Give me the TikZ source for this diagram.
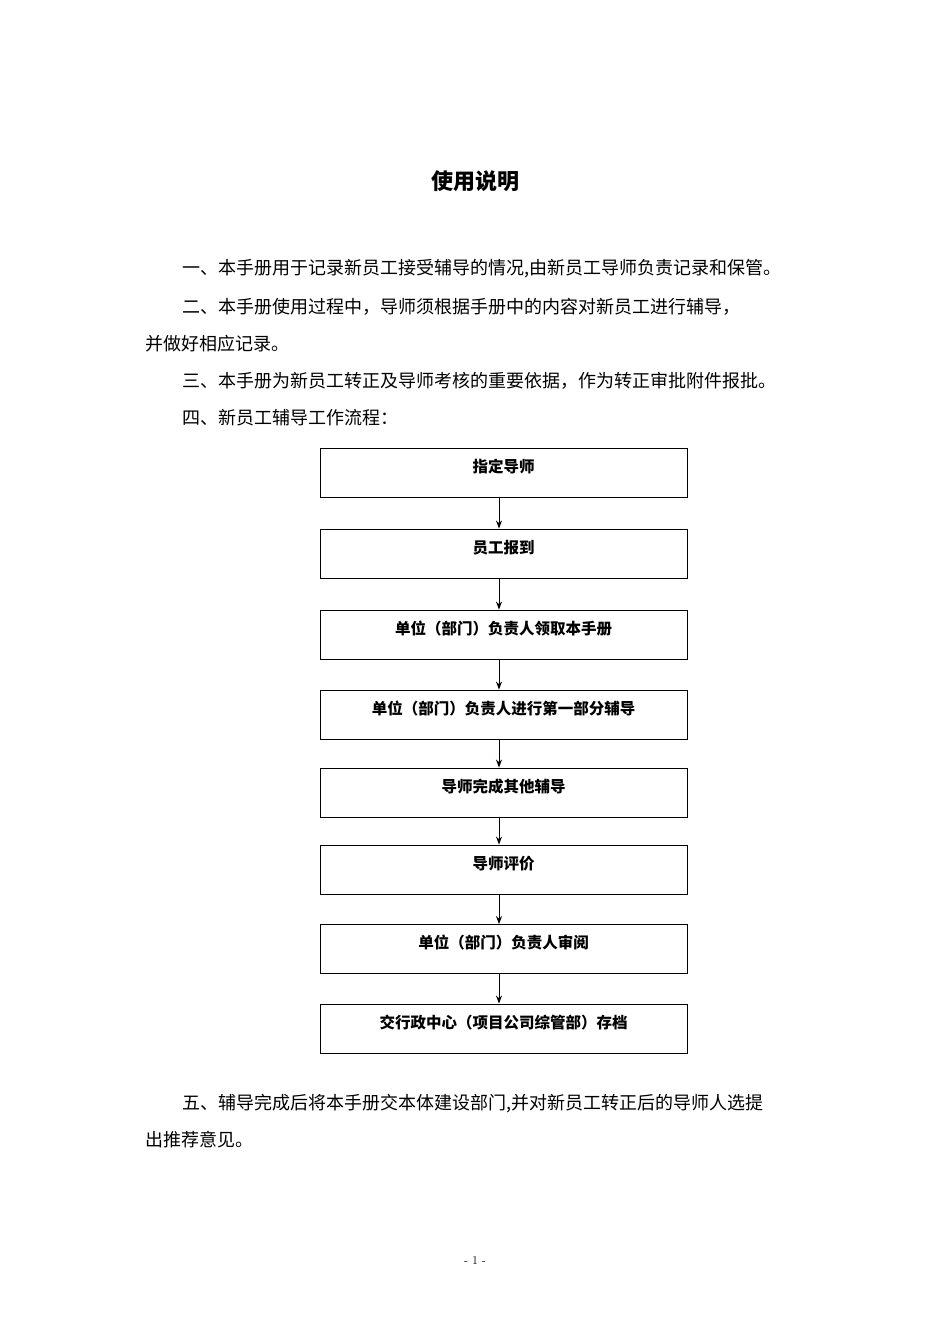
\documentclass[tikz,border=0pt]{standalone}
\usepackage{fontspec}
\newfontfamily\cjk{Noto Sans CJK SC}
\usetikzlibrary{arrows.meta}
\begin{document}
\begin{tikzpicture}[x=1pt,y=-1pt,
  body/.style={anchor=west,inner sep=0pt,font=\cjk\fontsize{18}{18}\selectfont},
  flowbox/.style={draw,line width=0.9pt,minimum width=367pt,minimum height=49pt,inner sep=0pt},
  lbl/.style={inner sep=0pt,font=\cjk\bfseries\fontsize{15.5}{16}\selectfont},
  arr/.style={-{Stealth[length=8pt,width=6pt]},line width=0.9pt}]
\useasboundingbox (0,0) rectangle (950,1344);
\node[inner sep=0pt,font=\cjk\bfseries\fontsize{22}{22}\selectfont] (title) at (475,181) {使用说明};
\node[body] (p1) at (182,269) {一、本手册用于记录新员工接受辅导的情况,由新员工导师负责记录和保管。};
\node[body] (p2) at (182,307) {二、本手册使用过程中，导师须根据手册中的内容对新员工进行辅导，};
\node[body] (p2b) at (145,344) {并做好相应记录。};
\node[body] (p3) at (182,381) {三、本手册为新员工转正及导师考核的重要依据，作为转正审批附件报批。};
\node[body] (p4) at (182,418) {四、新员工辅导工作流程：};
\foreach \i/\y/\t in {1/472.5/指定导师,2/553.5/员工报到,3/634.5/单位（部门）负责人领取本手册,4/714.5/单位（部门）负责人进行第一部分辅导,5/792.5/导师完成其他辅导,6/869.5/导师评价,7/949/单位（部门）负责人审阅,8/1028.5/交行政中心（项目公司综管部）存档}{
  \node[flowbox] (b\i) at (503.5,\y) {};
  \node[lbl] (t\i) at (503.5,\y-6) {\t};
}
\foreach \a/\b in {1/2,2/3,3/4,4/5,5/6,6/7,7/8}{
  \draw[arr] (b\a.south -| 499,0) -- (b\b.north -| 499,0);
}
\node[body] (p5) at (182,1104) {五、辅导完成后将本手册交本体建设部门,并对新员工转正后的导师人选提};
\node[body] (p5b) at (145,1140) {出推荐意见。};
\node[inner sep=0pt,font=\fontsize{12}{12}\selectfont] (pg) at (475,1260) {- 1 -};
\end{tikzpicture}
\end{document}
